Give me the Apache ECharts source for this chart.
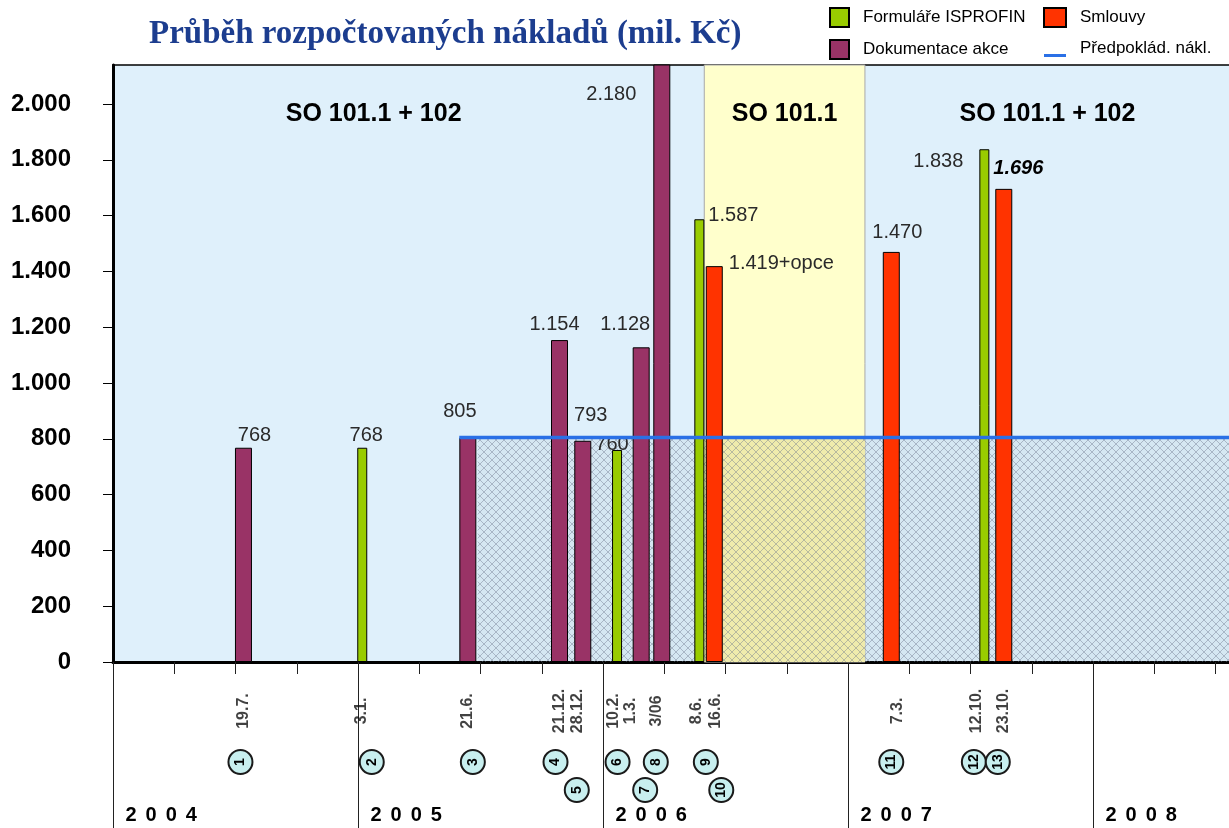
<!DOCTYPE html>
<html><head><meta charset="utf-8">
<script src="https://cdn.jsdelivr.net/npm/echarts@6/dist/echarts.min.js"></script>
<style>html,body{margin:0;padding:0;background:#fff}#c{width:1229px;height:828px}</style>
</head><body><div id="c"></div>
<script>
// ---------------- data ----------------
// x positions are months since 1.1.2004
const yearLabels = ['2004', '2005', '2006', '2007', '2008'];
const yTicks = [0, 200, 400, 600, 800, 1000, 1200, 1400, 1600, 1800, 2000];

const formulareX   = [12.38, 24.86, 28.89, 42.85];
const formulareVal = [768, 760, 1587, 1838];

const dokumentaceX   = [6.39, 17.38, 21.87, 23.01, 25.87, 26.88];
const dokumentaceVal = [768, 805, 1154, 793, 1128, 2180];

const smlouvyX    = [29.45, 38.12, 43.63];
const smlouvyVal  = [1419, 1470, 1696];
const smlouvyNote = ['+opce', '', ''];

const predpokladVal   = 805;
const predpokladStart = 16.96;
const hatchStart      = 17.86;

const regionBounds = [0, 28.96, 36.83, 60];
const regionLabels = ['SO 101.1 + 102', 'SO 101.1', 'SO 101.1 + 102'];

const eventNums  = [1, 2, 3, 4, 5, 6, 7, 8, 9, 10, 11, 12, 13];
const eventDates = ['19.7.', '3.1.', '21.6.', '21.12.', '28.12.', '10.2.', '1.3.', '3/06', '8.6.', '16.6.', '7.3.', '12.10.', '23.10.'];
const eventBars  = [['D',0],['F',0],['D',1],['D',2],['D',3],['F',1],['D',4],['D',5],['F',2],['S',0],['S',1],['F',3],['S',2]];
const eventRow   = [0, 0, 0, 0, 1, 0, 1, 0, 0, 1, 0, 0, 0];

// ---------------- styles / layout ----------------
const FONT = 'Liberation Sans, Arial, sans-serif';
const C_GREEN = '#99cc00', C_DOK = '#993366', C_RED = '#ff3300', C_LINE = '#2a70e6';
const ROW_Y = [98, 126];      // circle rows in the lower annotation strip (px below axis)
const DATE_Y = 47;
const circleDx = {1: -3, 2: 6, 3: 5, 4: -4, 5: -6, 6: -3, 7: 4, 8: -6, 9: 3, 10: 7, 12: -14, 13: -6};
const dateDx = {2: -4, 5: -5, 6: -7, 7: -11, 8: -5, 9: -6, 10: 1, 11: 6, 12: -11};

const labelF = [
  {position: 'top', offset: [4, 3]},
  {position: 'top', offset: [-5, 10]},
  {position: [14, -4], align: 'left', verticalAlign: 'middle'},
  {position: [-16, 12], align: 'right', verticalAlign: 'middle'}
];
const labelD = [
  {position: 'top', offset: [11, 3]},
  {position: 'top', offset: [-8, -11]},
  {position: 'top', offset: [-5, -1]},
  {position: 'top', offset: [8, -10]},
  {position: 'top', offset: [-16, -8]},
  {position: [-42, 30], align: 'center', verticalAlign: 'middle'}
];
const labelS = [
  {position: [23, -3], align: 'left', verticalAlign: 'middle'},
  {position: 'top', offset: [6, -4]},
  {position: [-2, -20], align: 'left', verticalAlign: 'middle', fontWeight: 'bold', fontStyle: 'italic', color: '#000'}
];

function fmt(v) { return String(v).replace(/\B(?=(\d{3})+(?!\d))/g, '.'); }

function barData(xs, vals, styles, notes) {
  return xs.map((x, i) => ({
    value: [x, vals[i]],
    label: Object.assign({
      show: true, fontFamily: FONT, fontSize: 20, color: '#2a2a2a', distance: 5,
      formatter: fmt(vals[i]) + (notes ? notes[i] : '')
    }, styles[i])
  }));
}

function hatchPattern() {
  const c = document.createElement('canvas');
  c.width = 8; c.height = 8;
  const g = c.getContext('2d');
  g.fillStyle = 'rgba(90,110,130,0.07)';
  g.fillRect(0, 0, 8, 8);
  g.strokeStyle = 'rgba(110,120,140,0.55)';
  g.lineWidth = 0.8;
  g.beginPath();
  g.moveTo(0, 0); g.lineTo(8, 8);
  g.moveTo(8, 0); g.lineTo(0, 8);
  g.stroke();
  return c;
}

const seriesX = {F: formulareX, D: dokumentaceX, S: smlouvyX};
const eventX = eventBars.map(([s, i]) => seriesX[s][i]);

const regionStyles = [
  {color: 'rgba(0,0,0,0)', borderWidth: 0},
  {color: '#ffffcc', borderColor: '#a8a8a8', borderWidth: 1},
  {color: 'rgba(0,0,0,0)', borderWidth: 0}
];
const regionOffsets = [[-35, 0], [0, 0], [-54, 0]];
const markAreaData = regionLabels.map((name, i) => [
  {name: name, xAxis: regionBounds[i], itemStyle: regionStyles[i],
   label: {offset: regionOffsets[i]}},
  {xAxis: regionBounds[i + 1]}
]);
// deeper yellow under the hatch in the SO 101.1 stage
markAreaData.push([
  {name: '', xAxis: regionBounds[1], yAxis: 0, itemStyle: {color: '#fbf5b0', borderWidth: 0}, label: {show: false}},
  {xAxis: regionBounds[2], yAxis: predpokladVal}
]);

const chart = echarts.init(document.getElementById('c'), null, {renderer: 'canvas'});

const legendText = {fontFamily: FONT, fontSize: 17, color: '#000', padding: [0, 0, 0, 9]};

const option = {
  animation: false,
  backgroundColor: '#ffffff',
  title: {
    text: 'Průběh rozpočtovaných nákladů (mil. Kč)',
    left: 149, top: 18, padding: 0,
    textStyle: {fontFamily: 'Liberation Serif, Times New Roman, serif', fontWeight: 'bold', fontSize: 33, color: '#1c3d8f'}
  },
  legend: [
    {
      left: 829, top: 7, padding: 0, orient: 'vertical', itemWidth: 19, itemHeight: 19, itemGap: 11,
      selectedMode: false, icon: 'rect',
      data: ['Formuláře ISPROFIN', 'Dokumentace akce'],
      textStyle: legendText
    },
    {
      left: 1043, top: 7, padding: 0, orient: 'vertical', itemWidth: 22, itemHeight: 19, itemGap: 11,
      selectedMode: false, icon: 'rect',
      data: [{name: 'Smlouvy'}, {name: 'Předpoklád. nákl.', icon: 'path://M0,0 M0,15 L22,15 L22,18 L0,18 Z'}],
      textStyle: legendText
    }
  ],
  grid: [
    {left: 113, right: -109, top: 65, bottom: 166, show: true, backgroundColor: '#dff0fb',
     borderColor: '#000', borderWidth: 1.5, outerBoundsMode: 'none', containLabel: false},
    {left: 113, right: -109, top: 664, bottom: 0, show: false, outerBoundsMode: 'none', containLabel: false}
  ],
  xAxis: [
    {
      type: 'value', gridIndex: 0, min: 0, max: 60, interval: 12,
      axisLine: {show: true, onZero: false, lineStyle: {color: '#000', width: 3}},
      axisTick: {show: true, length: 166, lineStyle: {color: '#222', width: 1}},
      minorTick: {show: true, splitNumber: 4, length: 12, lineStyle: {color: '#222', width: 1}},
      splitLine: {show: false}, minorSplitLine: {show: false},
      axisLabel: {
        show: true, margin: 143, align: 'left', padding: [0, 0, 0, 8],
        formatter: function (v) {
          const i = Math.round(v / 12);
          if (i < 0 || i >= yearLabels.length) return '';
          return yearLabels[i].split('').map(ch => '{d|' + ch + '}').join('');
        },
        rich: {d: {fontFamily: FONT, fontSize: 20, fontWeight: 'bold', color: '#000', padding: [0, 4.5, 0, 4.5]}}
      }
    },
    {type: 'value', gridIndex: 1, min: 0, max: 60, show: false}
  ],
  yAxis: [
    {
      type: 'value', gridIndex: 0, min: 0, max: 2140, interval: 200,
      axisLine: {show: true, onZero: false, lineStyle: {color: '#000', width: 3}},
      axisTick: {show: true, length: 10, customValues: yTicks, lineStyle: {color: '#000', width: 1}},
      splitLine: {show: false},
      axisLabel: {
        margin: 42, fontFamily: FONT, fontSize: 24, fontWeight: 'bold', color: '#000',
        customValues: yTicks,
        formatter: v => fmt(v)
      }
    },
    {type: 'value', gridIndex: 1, min: 0, max: 164, inverse: true, show: false}
  ],
  series: [
    {
      name: 'hatch', type: 'line', xAxisIndex: 0, yAxisIndex: 0, z: 2, silent: true,
      data: [[hatchStart, predpokladVal], [60, predpokladVal]],
      symbol: 'none', lineStyle: {width: 0, opacity: 0},
      areaStyle: {color: {image: hatchPattern(), repeat: 'repeat'}, opacity: 1},
      markArea: {
        silent: true, z: 1,
        label: {show: true, position: 'insideTop', distance: 37, fontFamily: FONT, fontSize: 25, fontWeight: 'bold', color: '#000'},
        data: markAreaData
      }
    },
    {
      name: 'Formuláře ISPROFIN', type: 'bar', xAxisIndex: 0, yAxisIndex: 0, z: 3,
      barWidth: 10, barGap: '-100%',
      itemStyle: {color: C_GREEN, borderColor: '#000', borderWidth: 1},
      data: barData(formulareX, formulareVal, labelF)
    },
    {
      name: 'Dokumentace akce', type: 'bar', xAxisIndex: 0, yAxisIndex: 0, z: 3,
      barWidth: 17, barGap: '-100%',
      itemStyle: {color: C_DOK, borderColor: '#000', borderWidth: 1},
      data: barData(dokumentaceX, dokumentaceVal, labelD)
    },
    {
      name: 'Smlouvy', type: 'bar', xAxisIndex: 0, yAxisIndex: 0, z: 3,
      barWidth: 17, barGap: '-100%',
      itemStyle: {color: C_RED, borderColor: '#000', borderWidth: 1},
      data: barData(smlouvyX, smlouvyVal, labelS, smlouvyNote)
    },
    {
      name: 'Předpoklád. nákl.', type: 'line', xAxisIndex: 0, yAxisIndex: 0, z: 4,
      data: [[predpokladStart, predpokladVal], [60, predpokladVal]],
      symbol: 'none', color: C_LINE,
      lineStyle: {color: C_LINE, width: 3.5},
      itemStyle: {color: C_LINE, borderWidth: 0}
    },
    {
      name: 'dates', type: 'scatter', xAxisIndex: 1, yAxisIndex: 1, silent: true,
      symbol: 'circle', symbolSize: 1, itemStyle: {color: 'rgba(0,0,0,0)'},
      label: {show: true, position: 'inside', rotate: 90, fontFamily: FONT, fontSize: 16, fontWeight: 'bold', color: '#111',
              formatter: p => p.name},
      data: eventDates.map((d, i) => ({name: d, value: [eventX[i], DATE_Y],
                                       symbolOffset: [dateDx[eventNums[i]] || 0, 0]}))
    },
    {
      name: 'circles', type: 'scatter', xAxisIndex: 1, yAxisIndex: 1, silent: true,
      symbol: 'circle', symbolSize: 24,
      itemStyle: {color: '#c8efef', borderColor: '#1a1a1a', borderWidth: 2, opacity: 1},
      label: {show: true, position: 'inside', rotate: 90, fontFamily: FONT, fontSize: 14, fontWeight: 'bold', color: '#000',
              formatter: p => p.name},
      data: eventNums.map((n, i) => ({name: String(n), value: [eventX[i], ROW_Y[eventRow[i]]],
                                      symbolOffset: [circleDx[n] || 0, 0]}))
    }
  ]
};
chart.setOption(option);
</script>
</body></html>
